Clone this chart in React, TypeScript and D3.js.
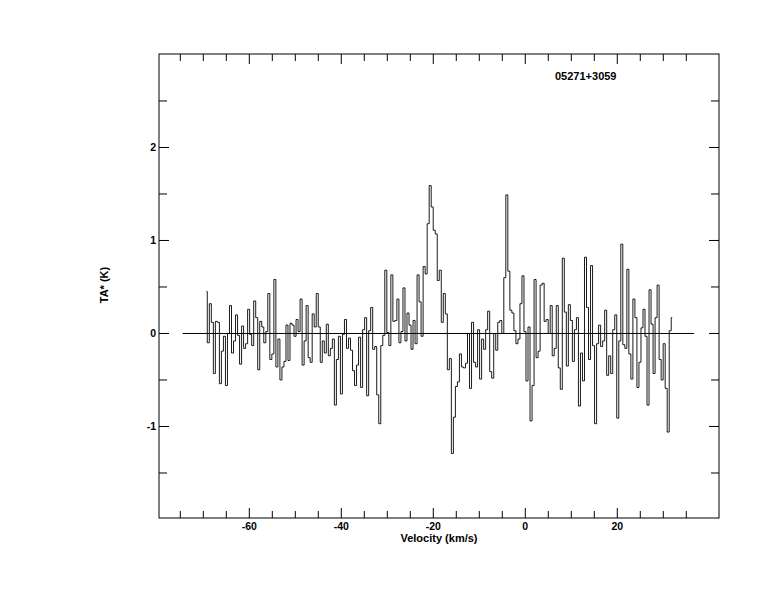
import React from "react";
import * as d3 from "d3";

const title = "05271+3059";
const xLabel = "Velocity (km/s)";
const yLabel = "TA* (K)";
const xDomain = [-79.63, 42.11];
const yDomain = [-1.984, 3.005];
const xTickValues = [-75, -70, -65, -60, -55, -50, -45, -40, -35, -30, -25, -20, -15, -10, -5, 0, 5, 10, 15, 20, 25, 30, 35];
const xTickLabels = [-60, -40, -20, 0, 20];
const yTickValues = [-1.5, -1, -0.5, 0, 0.5, 1, 1.5, 2, 2.5];
const yTickLabels = [-1, 0, 1, 2];
const baselineRange = [-74.5, 36.7];
const v0 = -69.35;
const dv = 0.4385;
const ta = [
  0.45, -0.10, 0.32, 0.12, -0.43, 0.13, 0.12, -0.54, -0.19, -0.03, -0.56, 0.00, 0.30, -0.21, -0.08, 0.20, -0.02, -0.33, 0.08, -0.16, -0.11, 0.26, -0.01, -0.13, 0.35, 0.17, -0.39, 0.13, 0.07, -0.10, 0.02, 0.43, -0.28, -0.22, 0.58, -0.36, -0.06,
  -0.50, -0.36, -0.30, 0.09, -0.29, 0.11, 0.09, -0.03, 0.15, 0.02, 0.37, -0.34, -0.08, 0.30, -0.26, -0.31, 0.21, 0.07, 0.43, 0.07, -0.31, -0.08, -0.21, 0.10, -0.24, -0.16, -0.06, -0.77, -0.28, -0.03, -0.65, -0.01, 0.15, -0.16, -0.05, -0.18, -0.40, -0.56,
  -0.34, -0.04, -0.58, 0.04, 0.17, -0.67, 0.03, 0.28, -0.17, -0.14, -0.66, -0.97, -0.13, -0.02, 0.68, 0.01, -0.13, 0.63, 0.13, 0.14, 0.37, -0.10, 0.02, 0.49, -0.08, 0.22, 0.09, -0.17, 0.14, -0.11, 0.63, 0.34, -0.03, 0.72, 0.64, 1.18, 1.59,
  1.36, 1.11, 1.07, 0.57, 0.68, 0.12, 0.43, 0.21, -0.39, -0.27, -1.29, -0.90, -0.57, -0.52, -0.22, -0.36, -0.37, -0.32, 0.00, -0.59, 0.12, -0.31, -0.36, 0.04, -0.49, -0.06, -0.17, 0.04, 0.24, -0.41, -0.48, 0.00, -0.18, 0.12, 0.14, 0.00, 0.60,
  1.49, 0.67, 0.25, 0.22, 0.03, -0.11, -0.06, 0.32, 0.62, 0.02, -0.51, 0.07, -0.94, -0.56, 0.58, -0.26, -0.19, 0.52, 0.54, 0.13, 0.15, 0.00, 0.30, -0.24, -0.16, 0.30, -0.37, -0.60, 0.81, 0.23, -0.35, 0.31, 0.14, -0.30, 0.04, 0.17, -0.78,
  -0.21, -0.51, 0.82, 0.28, -0.28, 0.73, -0.13, -0.97, -0.11, 0.09, -0.14, -0.08, 0.25, -0.45, -0.24, -0.43, 0.04, 0.20, -0.91, -0.08, 0.96, -0.12, -0.16, 0.69, -0.22, -0.49, 0.37, 0.17, -0.58, -0.31, 0.06, 0.26, -0.03, -0.77, 0.47, 0.10, -0.43, 0.17,
  0.52, -0.28, -0.50, -0.11, -0.59, -1.06, 0.03, 0.17,
];

const W = 774;
const H = 612;
const L = 159;
const R = 719;
const T = 54;
const B = 518;
const FONT = "'Liberation Sans', Arial, Helvetica, sans-serif";
const INK = "#000";
const FS = 10.5;

export default function App() {
  const x = d3.scaleLinear().domain(xDomain).range([L, R]);
  const y = d3.scaleLinear().domain(yDomain).range([B, T]);
  const pts = ta.map((v, i) => [v0 + i * dv, v] as [number, number]);
  const line = d3
    .line<[number, number]>()
    .x((d) => x(d[0]))
    .y((d) => y(d[1]))
    .curve(d3.curveStep);
  const major = 10;
  const minor = 7;
  return (
    <svg
      width={W}
      height={H}
      style={{ position: "absolute", left: 0, top: 0, background: "#fff" }}
    >
      <rect x={0} y={0} width={W} height={H} fill="#fff" />
      <rect x={L} y={T} width={R - L} height={B - T} fill="none" stroke={INK} strokeWidth={1} />
      {xTickValues.map((v) => {
        const len = v % 20 === 0 ? major : minor;
        const px = x(v);
        return (
          <g key={"xt" + v}>
            <line x1={px} x2={px} y1={B} y2={B - len} stroke={INK} />
            <line x1={px} x2={px} y1={T} y2={T + len} stroke={INK} />
          </g>
        );
      })}
      {yTickValues.map((v) => {
        const len = Number.isInteger(v) ? major : minor + 1;
        const py = y(v);
        return (
          <g key={"yt" + v}>
            <line x1={L} x2={L + len} y1={py} y2={py} stroke={INK} />
            <line x1={R} x2={R - len} y1={py} y2={py} stroke={INK} />
          </g>
        );
      })}
      {xTickLabels.map((v) => (
        <text
          key={"xl" + v}
          x={x(v)}
          y={530}
          textAnchor="middle"
          fontFamily={FONT}
          fontWeight="bold"
          fontSize={FS}
          fill={INK}
        >
          {v}
        </text>
      ))}
      {yTickLabels.map((v) => (
        <text
          key={"yl" + v}
          x={156}
          y={y(v) + 3.5}
          textAnchor="end"
          fontFamily={FONT}
          fontWeight="bold"
          fontSize={FS}
          fill={INK}
        >
          {v}
        </text>
      ))}
      <text
        x={(L + R) / 2}
        y={541.5}
        textAnchor="middle"
        fontFamily={FONT}
        fontWeight="bold"
        fontSize={11}
        fill={INK}
      >
        {xLabel}
      </text>
      <text
        transform={`translate(107.5,285) rotate(-90)`}
        textAnchor="middle"
        fontFamily={FONT}
        fontWeight="bold"
        fontSize={11}
        fill={INK}
      >
        {yLabel}
      </text>
      <text x={555} y={79.5} fontFamily={FONT} fontWeight="bold" fontSize={11} fill={INK}>
        {title}
      </text>
      <line
        x1={x(baselineRange[0])}
        x2={x(baselineRange[1])}
        y1={y(0)}
        y2={y(0)}
        stroke={INK}
      />
      <path d={line(pts) || ""} fill="none" stroke={INK} strokeWidth={0.9} />
    </svg>
  );
}
